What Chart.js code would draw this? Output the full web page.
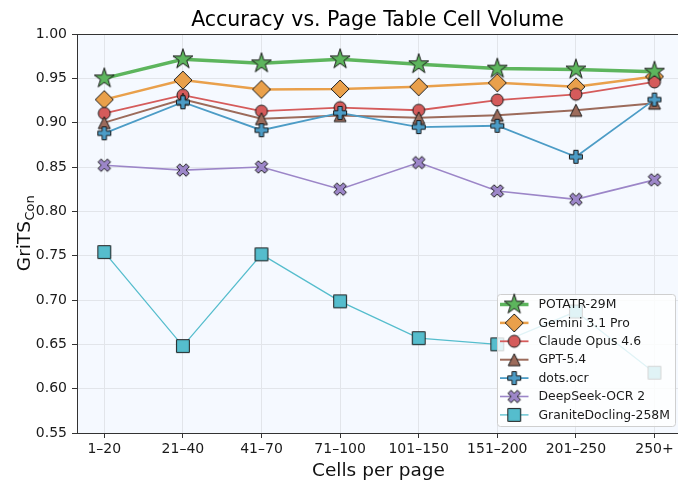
<!DOCTYPE html>
<html>
<head>
<meta charset="utf-8">
<script src="https://cdn.jsdelivr.net/npm/chart.js@4.4.1/dist/chart.umd.min.js"></script>
<style>
html,body{margin:0;padding:0;background:#fff;overflow:hidden}
#wrap{width:678px;height:483px;position:relative}
</style>
</head>
<body>
<div id="wrap"><canvas id="c" width="678" height="483"></canvas></div>
<script>
// ---- data ----
const categories = ['1–20','21–40','41–70','71–100','101–150','151–200','201–250','250+'];
const yTickValues = [0.55,0.60,0.65,0.70,0.75,0.80,0.85,0.90,0.95,1.00];
const seriesNames = ['POTATR-29M','Gemini 3.1 Pro','Claude Opus 4.6','GPT-5.4','dots.ocr','DeepSeek-OCR 2','GraniteDocling-258M'];
const potatr   = [0.950,0.9715,0.967,0.9715,0.966,0.961,0.960,0.9575];
const gemini   = [0.926,0.948,0.9375,0.938,0.9405,0.945,0.9405,0.952];
const claude   = [0.9105,0.931,0.913,0.917,0.914,0.9255,0.932,0.946];
const gpt      = [0.900,0.9265,0.9045,0.908,0.9055,0.9085,0.914,0.922];
const dots     = [0.888,0.923,0.8915,0.911,0.895,0.8965,0.8615,0.926];
const deepseek = [0.852,0.8465,0.850,0.825,0.855,0.823,0.8135,0.8355];
const granite  = [0.754,0.648,0.7515,0.6985,0.657,0.650,0.687,0.618];
const seriesValues = [potatr,gemini,claude,gpt,dots,deepseek,granite];

// ---- styles ----
const colors = ['#5db55d','#e9a04b','#d55b5b','#9c6b5b','#4c9cc6','#9c86c8','#55bdcd'];
const lineWidths = [3.5,2.5,1.8,2,1.8,1.6,1.3];
const shapes = ['star','diamond','circle','triangle','plus','x','square'];
const orders = [0,6,5,4,3,2,1];
const FONT = "'DejaVu Sans', sans-serif";

function markerCanvas(shape, fill){
  const S = 28;
  const cv = document.createElement('canvas');
  cv.width = S; cv.height = S;
  const g = cv.getContext('2d');
  g.translate(S/2, S/2);
  g.beginPath();
  const poly = (pts, k) => { pts.forEach((p,i)=>{ const x=p[0]*k, y=p[1]*k; i?g.lineTo(x,y):g.moveTo(x,y); }); };
  if (shape === 'star') {
    const R = 10.5, r = R*0.382;
    for (let k=0;k<10;k++){ const a=-Math.PI/2+k*Math.PI/5, rad=k%2?r:R; const x=Math.cos(a)*rad, y=Math.sin(a)*rad; k?g.lineTo(x,y):g.moveTo(x,y); }
  } else if (shape === 'diamond') {
    poly([[0,-1],[1,0],[0,1],[-1,0]], 9);
  } else if (shape === 'circle') {
    g.arc(0,0,6,0,Math.PI*2);
  } else if (shape === 'triangle') {
    poly([[0,-1],[1,1],[-1,1]], 6);
  } else if (shape === 'plus') {
    poly([[-1,-3],[1,-3],[1,-1],[3,-1],[3,1],[1,1],[1,3],[-1,3],[-1,1],[-3,1],[-3,-1],[-1,-1]], 13/6);
  } else if (shape === 'x') {
    poly([[-1,-2],[0,-1],[1,-2],[2,-1],[1,0],[2,1],[1,2],[0,1],[-1,2],[-2,1],[-1,0],[-2,-1]], 12.5/4);
  } else if (shape === 'square') {
    poly([[-1,-1],[1,-1],[1,1],[-1,1]], 6.4);
  }
  g.closePath();
  g.fillStyle = fill; g.fill();
  g.lineWidth = 1; g.strokeStyle = '#1a1a1a'; g.stroke();
  return cv;
}
const markers = shapes.map((s,i)=>markerCanvas(s, colors[i]));

const datasets = seriesNames.map((name,i)=>({
  label: name,
  data: seriesValues[i].map((v,j)=>({x:j, y:v})),
  borderColor: colors[i],
  backgroundColor: colors[i],
  borderWidth: lineWidths[i],
  pointStyle: markers[i],
  pointRadius: 7,
  pointHoverRadius: 7,
  tension: 0,
  fill: false,
  order: orders[i]
}));

const decor = {
  id: 'decor',
  beforeDraw(chart){
    const {ctx, chartArea: ca} = chart;
    ctx.save();
    ctx.fillStyle = '#f5f9ff';
    ctx.fillRect(ca.left, ca.top, ca.right-ca.left, ca.bottom-ca.top);
    ctx.restore();
  },
  beforeDatasetsDraw(chart){
    const {ctx, chartArea: ca} = chart;
    ctx.save();
    ctx.strokeStyle = '#333'; ctx.lineWidth = 1;
    ctx.beginPath(); ctx.moveTo(ca.left, ca.top+0.5); ctx.lineTo(ca.right, ca.top+0.5); ctx.stroke();
    ctx.restore();
  },
  afterDraw(chart){
    const {ctx, chartArea: ca} = chart;
    ctx.save();
    ctx.fillStyle = '#111';
    ctx.font = '18.5px ' + FONT;
    ctx.textAlign = 'center'; ctx.textBaseline = 'alphabetic';
    ctx.fillText('Cells per page', (ca.left+ca.right)/2 + 1, 476);
    ctx.translate(30, (ca.top+ca.bottom)/2);
    ctx.rotate(-Math.PI/2);
    ctx.textAlign = 'left';
    ctx.font = '18.5px ' + FONT;
    const w1 = ctx.measureText('GriTS').width;
    ctx.font = '13px ' + FONT;
    const w2 = ctx.measureText('Con').width;
    const x0 = -(w1+w2)/2;
    ctx.font = '18.5px ' + FONT;
    ctx.fillText('GriTS', x0, 0);
    ctx.font = '13px ' + FONT;
    ctx.fillText('Con', x0+w1+0.5, 4);
    ctx.restore();

    // legend
    ctx.save();
    const L = 497.5, T = ca.bottom - 138.5, W = 178, H = 132;
    ctx.beginPath();
    if (ctx.roundRect) ctx.roundRect(L, T, W, H, 3); else ctx.rect(L, T, W, H);
    ctx.fillStyle = 'rgba(255,255,255,0.82)';
    ctx.fill();
    ctx.strokeStyle = '#cfcfcf'; ctx.lineWidth = 1; ctx.stroke();
    ctx.font = '12.4px ' + FONT;
    ctx.textAlign = 'left'; ctx.textBaseline = 'middle';
    seriesNames.forEach((name,i)=>{
      const cy = T + 10 + i*18.4;
      ctx.strokeStyle = colors[i];
      ctx.lineWidth = lineWidths[i];
      ctx.beginPath(); ctx.moveTo(L+2.5, cy); ctx.lineTo(L+31, cy); ctx.stroke();
      const m = markers[i];
      ctx.drawImage(m, L+16.7-m.width/2, cy-m.height/2);
      ctx.fillStyle = '#1a1a1a';
      ctx.fillText(name, L+41, cy+0.5);
    });
    ctx.restore();
  }
};

Chart.defaults.font.family = FONT;
Chart.defaults.color = '#1a1a1a';

new Chart(document.getElementById('c'), {
  type: 'line',
  data: { datasets },
  plugins: [decor],
  options: {
    responsive: false,
    animation: false,
    events: [],
    layout: { padding: 0, autoPadding: false },
    plugins: {
      legend: { display: false },
      tooltip: { enabled: false },
      title: {
        display: true,
        text: 'Accuracy vs. Page Table Cell Volume',
        fullSize: false,
        color: '#000',
        font: { family: FONT, size: 20.5, weight: 'normal' },
        padding: { top: 8, bottom: 1.4 }
      }
    },
    scales: {
      x: {
        type: 'linear',
        min: -0.347,
        max: 7.299,
        afterBuildTicks: s => { s.ticks = categories.map((_,i)=>({value:i})); },
        afterFit: s => { s.height = 50; },
        ticks: {
          callback: v => categories[v] ?? '',
          font: { size: 14 },
          color: '#1a1a1a',
          padding: 3,
          maxRotation: 0,
          autoSkip: false
        },
        grid: { color: '#e2e5ea', lineWidth: 1, drawTicks: true, tickLength: 5, tickColor: '#333', tickWidth: 1 },
        border: { display: true, color: '#333', width: 1 }
      },
      y: {
        type: 'linear',
        min: 0.55,
        max: 1.0,
        afterBuildTicks: s => { s.ticks = yTickValues.map(v=>({value:v})); },
        afterFit: s => { s.width = 77; },
        ticks: {
          callback: v => Number(v).toFixed(2),
          font: { size: 14 },
          color: '#1a1a1a',
          padding: 5
        },
        grid: { color: '#e2e5ea', lineWidth: 1, drawTicks: true, tickLength: 5, tickColor: '#333', tickWidth: 1 },
        border: { display: true, color: '#333', width: 1 }
      }
    }
  }
});
</script>
</body>
</html>
